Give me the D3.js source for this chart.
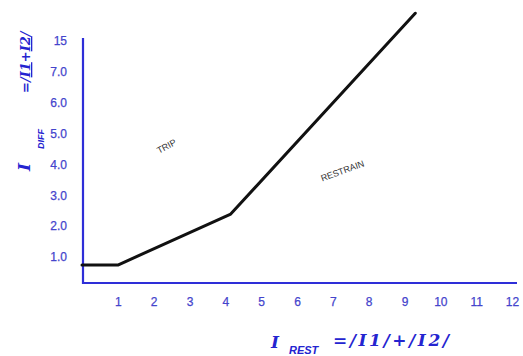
<!DOCTYPE html>
<html>
<head>
<meta charset="utf-8">
<script src="https://cdn.jsdelivr.net/npm/d3@7"></script>
<style>
  html, body { margin: 0; padding: 0; background: #fff; }
  svg { display: block; }
</style>
</head>
<body>
<svg id="chart" width="523" height="356"></svg>
<script>
// Differential relay operating characteristic (broken Y axis: top tick is 15)
const xTicks = [1, 2, 3, 4, 5, 6, 7, 8, 9, 10, 11, 12];
const yTicks = [1, 2, 3, 4, 5, 6, 7, 8];
const yTickLabels = ["1.0", "2.0", "3.0", "4.0", "5.0", "6.0", "7.0", "15"];
const restCurrent = [0, 1, 4.15, 9.3];
const diffCurrent = [0.74, 0.74, 2.39, 8.9];
const regionNames = ["TRIP", "RESTRAIN"];
const regionX = [2.4, 7.3];
const regionY = [4.5, 3.7];

const svg = d3.select("#chart");
const blue = "#2e2ed8";
const labelBlue = "#4444cc";

const x = d3.scaleLinear().domain([0, 12]).range([82, 512]);
const y = d3.scaleLinear().domain([1, 8]).range([257, 41]);

const plot = { left: 83, top: 38, right: 517, bottom: 283 };

// axis lines
svg.append("path")
  .attr("d", `M${plot.left},${plot.top}V${plot.bottom}H${plot.right}`)
  .attr("fill", "none")
  .attr("stroke", blue)
  .attr("stroke-width", 2.2);

// tick labels
const gx = svg.append("g")
  .attr("transform", `translate(0,${plot.bottom})`)
  .call(d3.axisBottom(x).tickValues(xTicks).tickSize(0).tickPadding(14).tickFormat(d3.format("d")));
const gy = svg.append("g")
  .attr("transform", `translate(${plot.left},0)`)
  .call(d3.axisLeft(y).tickValues(yTicks).tickSize(0).tickPadding(16)
    .tickFormat((d, i) => yTickLabels[i]));
[gx, gy].forEach(g => {
  g.select(".domain").remove();
  g.selectAll("text")
    .attr("fill", labelBlue)
    .attr("stroke", labelBlue)
    .attr("stroke-width", 0.25)
    .style("font-family", "'Liberation Sans', Arial, sans-serif")
    .style("font-size", "12px");
});

// characteristic curve
const pts = restCurrent.map((v, i) => [v, diffCurrent[i]]);
svg.append("path")
  .datum(pts)
  .attr("d", d3.line().x(d => x(d[0])).y(d => y(d[1])))
  .attr("fill", "none")
  .attr("stroke", "#111")
  .attr("stroke-width", 3)
  .attr("stroke-linejoin", "round")
  .attr("stroke-linecap", "round");

// region names
const rot = [-28, -20];
regionNames.forEach((name, i) => {
  svg.append("text")
    .attr("transform", `translate(${x(regionX[i])},${y(regionY[i])}) rotate(${rot[i]})`)
    .attr("text-anchor", "middle")
    .attr("fill", "#333")
    .style("font-family", "'Liberation Sans', Arial, sans-serif")
    .style("font-size", "9px")
    .text(name);
});

// axis titles
const titleFont = "'DejaVu Serif', 'Liberation Serif', serif";
const subFont = "'Liberation Sans', Arial, sans-serif";

// X title: I_REST = |I1| + |I2|
const xt = svg.append("g").attr("fill", "#2424d0");
xt.append("text").attr("x", 271).attr("y", 348)
  .style("font-family", titleFont).style("font-weight", "bold").style("font-style", "italic")
  .style("font-size", "17px").text("I");
xt.append("text").attr("x", 289).attr("y", 354)
  .style("font-family", subFont).style("font-weight", "bold").style("font-style", "italic")
  .style("font-size", "11px").text("REST");
xt.append("text").attr("x", 333).attr("y", 346)
  .attr("textLength", 116).attr("lengthAdjust", "spacing")
  .style("font-family", titleFont).style("font-weight", "bold").style("font-style", "italic")
  .style("font-size", "17px").text("=/I1/+/I2/");

// Y title: I_DIFF = |I1+I2| (rotated)
const yt = svg.append("g").attr("fill", "#2424d0").attr("transform", "rotate(-90)");
yt.append("text").attr("x", -171).attr("y", 30)
  .style("font-family", titleFont).style("font-weight", "bold").style("font-style", "italic")
  .style("font-size", "17px").text("I");
yt.append("text").attr("x", -149).attr("y", 44)
  .style("font-family", subFont).style("font-weight", "bold").style("font-style", "italic")
  .style("font-size", "9px").text("DIFF");
const eq = yt.append("text").attr("x", -93).attr("y", 30)
  .style("font-family", titleFont).style("font-weight", "bold").style("font-style", "italic")
  .style("font-size", "13px");
eq.append("tspan").text("=/");
eq.append("tspan").style("text-decoration", "underline").text("I1");
eq.append("tspan").text("+");
eq.append("tspan").style("text-decoration", "underline").text("I2");
eq.append("tspan").text("/");
</script>
</body>
</html>
